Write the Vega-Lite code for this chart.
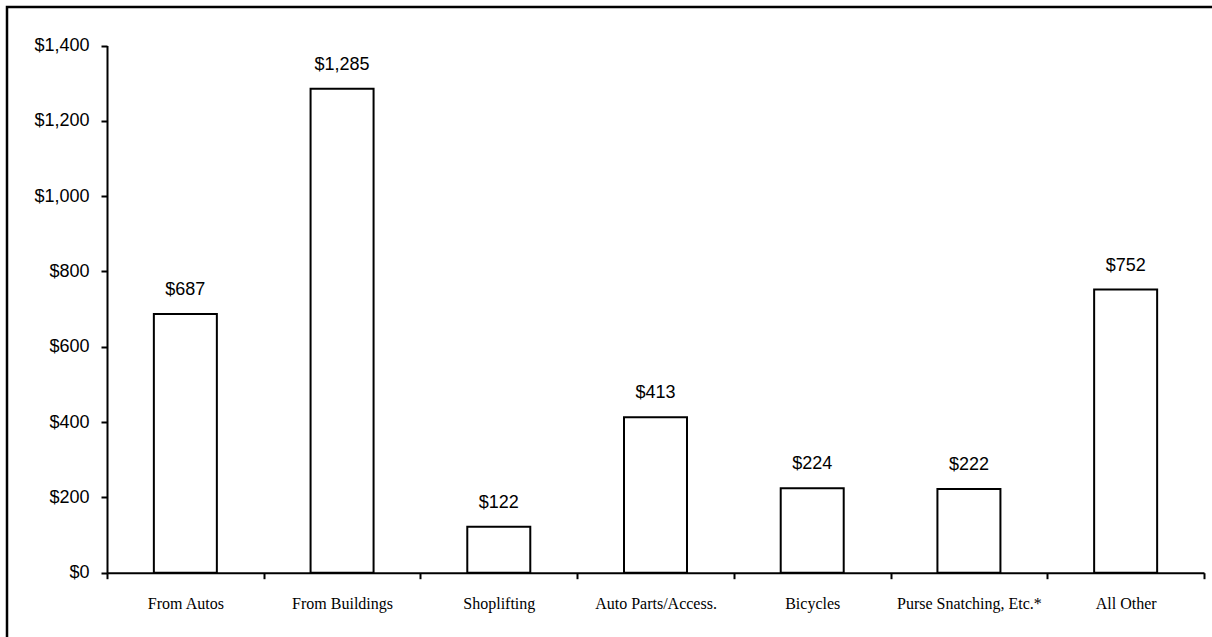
{
  "$schema": "https://vega.github.io/schema/vega-lite/v6.json",
  "autosize": {"type": "none"},
  "padding": {"left": 7, "top": 7, "right": -2, "bottom": -2},
  "width": 1207,
  "height": 632,
  "background": "white",
  "config": {
    "view": {"stroke": "black", "strokeWidth": 2.5},
    "axis": {"grid": false, "domainColor": "black", "tickColor": "black", "labelColor": "black", "domainWidth": 2, "tickWidth": 2, "title": null}
  },
  "data": {
    "values": [
      {"category": "From Autos", "value": 687},
      {"category": "From Buildings", "value": 1285},
      {"category": "Shoplifting", "value": 122},
      {"category": "Auto Parts/Access.", "value": 413},
      {"category": "Bicycles", "value": 224},
      {"category": "Purse Snatching, Etc.*", "value": 222},
      {"category": "All Other", "value": 752}
    ]
  },
  "encoding": {
    "x": {
      "field": "category", "type": "nominal", "sort": null,
      "scale": {"range": [100, 1197], "paddingInner": 0, "paddingOuter": 0},
      "axis": {"orient": "bottom", "offset": -66.3, "labelAngle": 0, "tickBand": "extent", "tickSize": 6, "labelFont": "Liberation Serif", "labelFontSize": 16, "labelBaseline": "alphabetic", "labelPadding": 30}
    },
    "y": {
      "field": "value", "type": "quantitative",
      "scale": {"domain": [0, 1400], "range": [565.7, 38.5], "nice": false},
      "axis": {"orient": "left", "offset": -100, "values": [0, 200, 400, 600, 800, 1000, 1200, 1400], "format": "$,.0f", "tickSize": 6, "labelFont": "Liberation Sans", "labelFontSize": 18, "labelPadding": 12}
    }
  },
  "layer": [
    {"mark": {"type": "bar", "fill": "white", "stroke": "black", "strokeWidth": 2, "width": {"band": 0.402}}},
    {"mark": {"type": "text", "font": "Liberation Sans", "fontSize": 18, "baseline": "alphabetic", "dy": -19, "color": "black"},
     "encoding": {"text": {"field": "value", "type": "quantitative", "format": "$,.0f"}}}
  ]
}
